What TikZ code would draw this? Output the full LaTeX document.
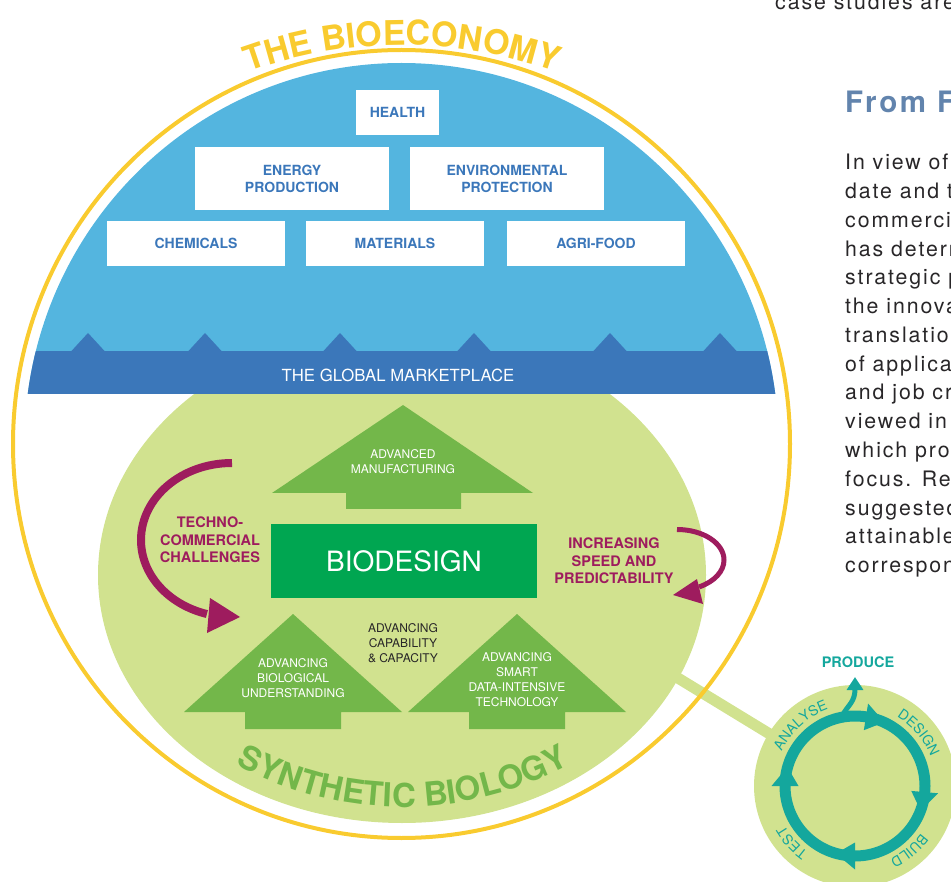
\documentclass[tikz,border=0pt]{standalone}
\usepackage{fontspec}
\setmainfont{TeX Gyre Heros}
\newfontfamily\spaced[LetterSpace=9]{TeX Gyre Heros}
\usetikzlibrary{decorations.text,arrows.meta}
\definecolor{yel}{RGB}{249,203,47}
\definecolor{lblue}{RGB}{84,181,223}
\definecolor{dblue}{RGB}{59,119,186}
\definecolor{lgreen}{RGB}{209,226,143}
\definecolor{agreen}{RGB}{115,183,74}
\definecolor{bgreen}{RGB}{0,166,81}
\definecolor{purp}{RGB}{158,28,94}
\definecolor{tealc}{RGB}{20,167,157}
\definecolor{txtgray}{RGB}{40,38,40}
\definecolor{headblue}{RGB}{98,132,173}
\begin{document}
\begin{tikzpicture}[x=1pt,y=1pt,
  wbox/.style={fill=white, text=dblue, font=\bfseries\fontsize{14}{17}\selectfont, align=center, inner sep=0pt},
  arrtxt/.style={text=white, font=\fontsize{12}{15}\selectfont, align=center, inner sep=0pt},
  purtxt/.style={text=purp, font=\bfseries\fontsize{14.5}{17.5}\selectfont, align=center, inner sep=0pt},
  blockarrow/.style={fill=agreen},
  bodytxt/.style={text=txtgray, font=\spaced\fontsize{21.3}{21.3}\selectfont, inner sep=0pt, anchor=base west},
  ringlbl/.style={decorate, decoration={text along path, text align=center, text color=tealc, text={|\fontsize{14}{14}\selectfont|#1}}}
]
\useasboundingbox (0,0) rectangle (951,-882);
\clip (0,0) rectangle (951,-882);

% small cycle with connecting bar
\coordinate (cycc) at (855,-786);
\coordinate (barA) at (650,-661);
\draw[lgreen, line width=11] (barA) -- (cycc);
\node[circle, fill=lgreen, minimum size=202, inner sep=0pt] (cyc) at (cycc) {};

% synthetic biology area
\fill[lgreen] (402,-575) ellipse [x radius=304, y radius=248];

% blue dome
\begin{scope}
  \clip (0,-394) rectangle (951,0);
  \fill[lblue] (401.5,-444) ellipse [x radius=377, y radius=381];
\end{scope}
\begin{scope}
  \clip (401.5,-444) ellipse [x radius=377, y radius=381];
  \fill[dblue] (0,-351) rectangle (951,-394);
  \foreach \tx in {88,205,340,474,610,720}
    \fill[dblue] (\tx-17,-351.5) -- (\tx,-333) -- (\tx+17,-351.5) -- cycle;
\end{scope}

% bioeconomy circle
\draw[yel, line width=4] (401.5,-444) ellipse [x radius=388.5, y radius=394];

% title on arc
\path[decorate, decoration={text along path, text align=center, text color=yel,
  text={|\bfseries\fontsize{34}{34}\selectfont|THE BIOECONOMY}}]
  (402,-495) ++(130:450) arc[start angle=130, end angle=50, radius=450];

% boxes
\node[wbox, minimum width=83, minimum height=45] (health) at (397.5,-112.5) {HEALTH};
\node[wbox, minimum width=194, minimum height=63] (energy) at (292,-178.5) {ENERGY\\PRODUCTION};
\node[wbox, minimum width=194, minimum height=63] (envir) at (507,-178.5) {ENVIRONMENTAL\\PROTECTION};
\node[wbox, minimum width=178, minimum height=45] (chem) at (196,-243.5) {CHEMICALS};
\node[wbox, minimum width=178, minimum height=45] (mater) at (395,-243.5) {MATERIALS};
\node[wbox, minimum width=178, minimum height=45] (agri) at (596,-243.5) {AGRI-FOOD};

\node[text=white, font=\fontsize{16.7}{16.7}\selectfont, inner sep=0pt] (market) at (398,-375) {THE GLOBAL MARKETPLACE};

% block arrows
\fill[blockarrow] (403,-405) -- (533,-493) -- (461,-493) -- (461,-509) -- (346,-509) -- (346,-493) -- (272,-493) -- cycle;
\fill[blockarrow] (293,-614) -- (402,-712) -- (341,-712) -- (341,-729) -- (245,-729) -- (245,-712) -- (184,-712) -- cycle;
\fill[blockarrow] (517,-614) -- (626,-712) -- (565,-712) -- (565,-729) -- (469,-729) -- (469,-712) -- (408,-712) -- cycle;

\node[arrtxt] (advman) at (403,-462) {ADVANCED\\MANUFACTURING};
\node[arrtxt] (advbio) at (293,-678) {ADVANCING\\BIOLOGICAL\\UNDERSTANDING};
\node[arrtxt] (advsmart) at (517,-679.5) {ADVANCING\\SMART\\DATA-INTENSIVE\\TECHNOLOGY};
\node[arrtxt, text=txtgray] (advcap) at (403,-643) {ADVANCING\\CAPABILITY\\\&~CAPACITY};

% biodesign
\node[fill=bgreen, minimum width=266, minimum height=74, inner sep=0pt, text=white,
  font=\fontsize{28}{28}\selectfont] (biodesign) at (404,-561) {BIODESIGN};

% purple texts and arrows
\node[purtxt] (techno) at (210,-540) {TECHNO-\\COMMERCIAL\\CHALLENGES};
\node[purtxt] (speed) at (614,-561) {INCREASING\\SPEED AND\\PREDICTABILITY};
\coordinate (lstart) at (232,-463);
\draw[purp, line width=8] (lstart) arc[start angle=90, end angle=254, x radius=91, y radius=77];
\fill[purp] (210,-598) -- (240,-617) -- (207,-633) -- cycle;
\coordinate (rstart) at (677,-529.5);
\draw[purp, line width=5] (rstart) arc[start angle=90, end angle=-62, x radius=47, y radius=30.5];
\fill[purp] (697,-579) -- (673,-595) -- (703,-604) -- cycle;

% synthetic biology title
\path[decorate, decoration={text along path, text align=center, text color=agreen,
  text={|\bfseries\fontsize{33}{33}\selectfont|SYNTHETIC BIOLOGY}}]
  (403,-460) ++(232:347) arc[start angle=232, end angle=308, radius=347];

% design-build-test cycle
\draw[tealc, line width=11] (cycc) circle [radius=70];
\foreach \b in {81,-5,-90,180}
  \fill[tealc, shift={(855,-786)}, rotate=\b] (56.5,0) -- (83.5,0) -- (67.6,-19) -- cycle;
\coordinate (prodtip) at (855,-677);
\draw[tealc, line width=5, -{Triangle[length=13pt,width=16pt]}] (842,-716) .. controls (848,-705) and (855,-702) .. (prodtip);
\node[text=tealc, font=\bfseries\fontsize{14.5}{14.5}\selectfont, inner sep=0pt] (produce) at (858,-662) {PRODUCE};
\path[ringlbl=ANALYSE] (cycc) ++(172:81) arc[start angle=172, end angle=92, radius=81];
\path[ringlbl=DESIGN] (cycc) ++(80:81) arc[start angle=80, end angle=0, radius=81];
\path[ringlbl=BUILD] (cycc) ++(-10:81) arc[start angle=-10, end angle=-90, radius=81];
\path[ringlbl=TEST] (cycc) ++(-98:81) arc[start angle=-98, end angle=-178, radius=81];

% page text at right
\node[bodytxt] (toptxt) at (775,-10) {case studies are};
\node[anchor=base west, inner sep=0pt, text=headblue, font=\spaced\bfseries\fontsize{29.5}{29.5}\selectfont] (head) at (845,-113) {From F};
\foreach \t [count=\i from 0] in {In view of,date and t,commerci,has deterr,strategic p,the innova,translation,of applica,and job cr,viewed in,which pro,focus. Rec,suggested,attainable,correspon}
  \node[bodytxt] (p\i) at (845,-170-28.75*\i) {\t};
\end{tikzpicture}
\end{document}
